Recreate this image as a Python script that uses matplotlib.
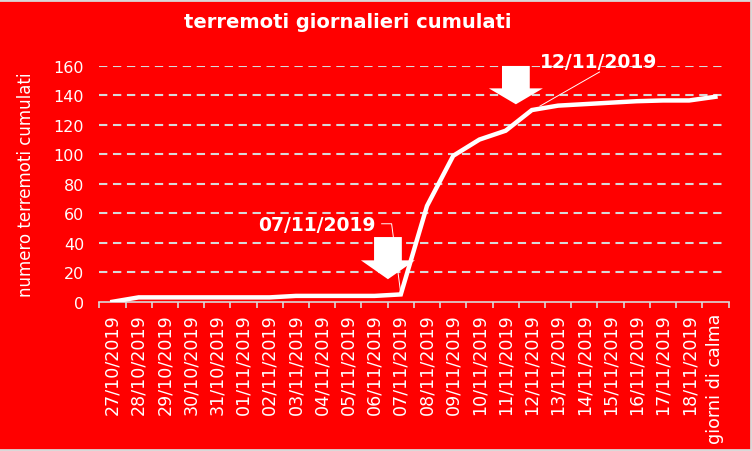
import matplotlib.pyplot as plt
from matplotlib.patches import Polygon
from matplotlib.lines import Line2D
import numpy as np

# data
dates = ["27/10/2019", "28/10/2019", "29/10/2019", "30/10/2019", "31/10/2019",
         "01/11/2019", "02/11/2019", "03/11/2019", "04/11/2019", "05/11/2019",
         "06/11/2019", "07/11/2019", "08/11/2019", "09/11/2019", "10/11/2019",
         "11/11/2019", "12/11/2019", "13/11/2019", "14/11/2019", "15/11/2019",
         "16/11/2019", "17/11/2019", "18/11/2019", "giorni di calma"]
cumulati = [0, 3, 3, 3, 3, 3, 3, 4, 4, 4, 4, 5,
            65, 99, 110, 116, 130, 133, 134, 135, 136, 136.5, 136.5, 139]
yticks = [0, 20, 40, 60, 80, 100, 120, 140, 160]

RED = "#FF0000"
GRID = "#D9D9D9"

W, H = 752, 452
fig = plt.figure(figsize=(W / 100, H / 100), dpi=100, facecolor=RED)

# light frame on top, right and bottom
for xs, ys in [([0, 1], [0.997, 0.997]), ([0.999, 0.999], [0, 1]), ([0, 1], [0.003, 0.003])]:
    fig.add_artist(Line2D(xs, ys, transform=fig.transFigure, color=GRID, lw=2))

# axes box in pixels
left, right, bottom, top = 99.3, 728.5, 302.8, 66.8
ax = fig.add_axes([left / W, 1 - bottom / H, (right - left) / W, (bottom - top) / H])
ax.set_facecolor(RED)

x = np.arange(len(dates))
ax.set_xlim(-0.5, len(dates) - 0.5)
ax.set_ylim(0, 160)

for v in yticks[1:]:
    ax.plot([-0.5, 23.3], [v, v], color=GRID, lw=1.5, linestyle=(0, (4, 2.7)), zorder=1)

ax.plot(x, cumulati, color="white", lw=3.2, solid_joinstyle="miter", zorder=3)

for s in ["top", "right", "left"]:
    ax.spines[s].set_visible(False)
ax.spines["bottom"].set_color(GRID)
ax.spines["bottom"].set_linewidth(1.2)

ax.set_yticks(yticks)
ax.set_yticklabels([str(v) for v in yticks])
ax.tick_params(axis="y", length=0, pad=11, labelsize=11.5, colors="white")

ax.set_xticks(x)
ax.set_xticklabels(dates, rotation=90)
ax.set_xticks(np.arange(len(dates) + 1) - 0.5, minor=True)
ax.tick_params(axis="x", which="major", length=0, pad=8, labelsize=12.6, colors="white")
ax.tick_params(axis="x", which="minor", length=4.5, width=1.2, color=GRID, direction="out")

ax.set_ylabel("numero terremoti cumulati", color="white", fontsize=12)
ax.yaxis.set_label_coords(-(left - 35) / (right - left), 0.5)

fig.text(348 / W, 1 - 22 / H, "terremoti giornalieri cumulati", color="white",
         fontsize=14, fontweight="bold", ha="center", va="center")


def block_arrow(cx, y_top, y_tip, shaft_len):
    pts = [(cx - 0.53, y_top), (cx + 0.53, y_top), (cx + 0.53, y_top - shaft_len),
           (cx + 1.03, y_top - shaft_len), (cx, y_tip), (cx - 1.03, y_top - shaft_len),
           (cx - 0.53, y_top - shaft_len)]
    ax.add_patch(Polygon(pts, closed=True, facecolor="white", edgecolor="none",
                         zorder=5, clip_on=False))


# leader 07/11 (runs under the arrow to the point)
ax.plot([10.27, 10.65, 11.0], [52.9, 52.9, 5.5], color="white", lw=0.7, zorder=2, clip_on=False)
ax.text(10.05, 52.5, "07/11/2019", color="white", fontsize=13.5, fontweight="bold",
        ha="right", va="center", zorder=6)
block_arrow(10.51, 43.9, 15.3, 15.8)

# leader 12/11
ax.plot([18.58, 16.31], [155.8, 132.7], color="white", lw=0.7, zorder=2, clip_on=False)
ax.text(18.53, 162.6, "12/11/2019", color="white", fontsize=13.5, fontweight="bold",
        ha="center", va="center", zorder=6)
block_arrow(15.39, 159.9, 133.9, 15.2)

fig.savefig("out.png", dpi=100, facecolor=RED)
